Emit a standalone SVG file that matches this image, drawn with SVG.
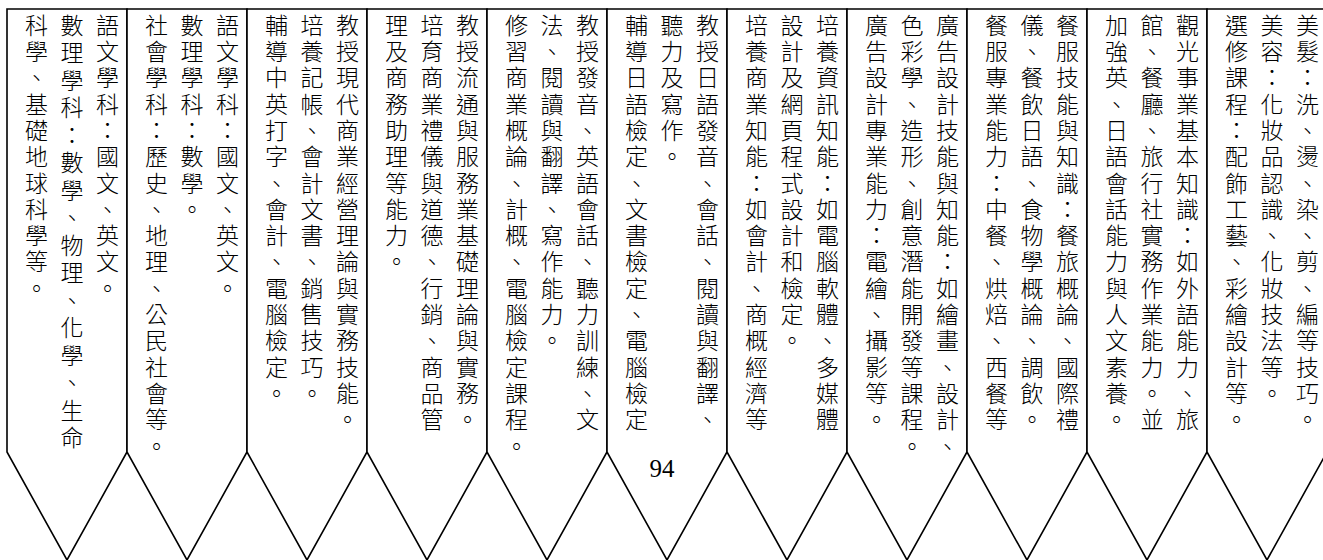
<svg xmlns="http://www.w3.org/2000/svg" width="1323" height="560" viewBox="0 0 1323 560">
<style>
.box { fill: #fff; stroke: #000; stroke-width: 1.6; stroke-linejoin: miter; }
.t { font-family: "Noto Sans CJK TC", "Noto Sans CJK JP", sans-serif; font-size: 23px; font-weight: 300; writing-mode: vertical-rl; letter-spacing: 3.3px; fill: #000; }
.w { letter-spacing: 4.5px; }
.pg { font-family: "Liberation Serif", serif; font-size: 25px; fill: #000; text-anchor: middle; }
</style>
<rect width="1323" height="560" fill="#fff"/>
<g id="box1">
<path class="box" d="M7 9H127V452L67 560L7 452Z"/>
<text class="t" x="107.5" y="13.5">語文學科：國文、英文。</text>
<text class="t w" x="72" y="13.5">數理學科：數學、物理、化學、生命</text>
<text class="t" x="36.5" y="13.5">科學、基礎地球科學等。</text>
</g>
<g id="box2">
<path class="box" d="M127 9H247V452L187 560L127 452Z"/>
<text class="t" x="227.5" y="13.5">語文學科：國文、英文。</text>
<text class="t" x="192" y="13.5">數理學科：數學。</text>
<text class="t" x="156.5" y="13.5">社會學科：歷史、地理、公民社會等。</text>
</g>
<g id="box3">
<path class="box" d="M247 9H367V452L307 560L247 452Z"/>
<text class="t" x="347.5" y="13.5">教授現代商業經營理論與實務技能。</text>
<text class="t" x="312" y="13.5">培養記帳、會計文書、銷售技巧。</text>
<text class="t" x="276.5" y="13.5">輔導中英打字、會計、電腦檢定。</text>
</g>
<g id="box4">
<path class="box" d="M367 9H487V452L427 560L367 452Z"/>
<text class="t" x="467.5" y="13.5">教授流通與服務業基礎理論與實務。</text>
<text class="t" x="432" y="13.5">培育商業禮儀與道德、行銷、商品管</text>
<text class="t" x="396.5" y="13.5">理及商務助理等能力。</text>
</g>
<g id="box5">
<path class="box" d="M487 9H607V452L547 560L487 452Z"/>
<text class="t" x="587.5" y="13.5">教授發音、英語會話、聽力訓練、文</text>
<text class="t" x="552" y="13.5">法、閱讀與翻譯、寫作能力。</text>
<text class="t" x="516.5" y="13.5">修習商業概論、計概、電腦檢定課程。</text>
</g>
<g id="box6">
<path class="box" d="M607 9H727V452L667 560L607 452Z"/>
<text class="t" x="707.5" y="13.5">教授日語發音、會話、閱讀與翻譯、</text>
<text class="t" x="672" y="13.5">聽力及寫作。</text>
<text class="t" x="636.5" y="13.5">輔導日語檢定、文書檢定、電腦檢定</text>
</g>
<g id="box7">
<path class="box" d="M727 9H847V452L787 560L727 452Z"/>
<text class="t" x="827.5" y="13.5">培養資訊知能：如電腦軟體、多媒體</text>
<text class="t" x="792" y="13.5">設計及網頁程式設計和檢定。</text>
<text class="t" x="756.5" y="13.5">培養商業知能：如會計、商概經濟等</text>
</g>
<g id="box8">
<path class="box" d="M847 9H967V452L907 560L847 452Z"/>
<text class="t" x="947.5" y="13.5">廣告設計技能與知能：如繪畫、設計、</text>
<text class="t" x="912" y="13.5">色彩學、造形、創意潛能開發等課程。</text>
<text class="t" x="876.5" y="13.5">廣告設計專業能力：電繪、攝影等。</text>
</g>
<g id="box9">
<path class="box" d="M967 9H1087V452L1027 560L967 452Z"/>
<text class="t" x="1067.5" y="13.5">餐服技能與知識：餐旅概論、國際禮</text>
<text class="t" x="1032" y="13.5">儀、餐飲日語、食物學概論、調飲。</text>
<text class="t" x="996.5" y="13.5">餐服專業能力：中餐、烘焙、西餐等</text>
</g>
<g id="box10">
<path class="box" d="M1087 9H1207V452L1147 560L1087 452Z"/>
<text class="t" x="1187.5" y="13.5">觀光事業基本知識：如外語能力、旅</text>
<text class="t" x="1152" y="13.5">館、餐廳、旅行社實務作業能力。並</text>
<text class="t" x="1116.5" y="13.5">加強英、日語會話能力與人文素養。</text>
</g>
<g id="box11">
<path class="box" d="M1207 9H1327V452L1267 560L1207 452Z"/>
<text class="t" x="1307.5" y="13.5">美髮：洗、燙、染、剪、編等技巧。</text>
<text class="t" x="1272" y="13.5">美容：化妝品認識、化妝技法等。</text>
<text class="t" x="1236.5" y="13.5">選修課程：配飾工藝、彩繪設計等。</text>
</g>
<g id="connectors"></g>
<text class="pg" x="662" y="477">94</text>
</svg>
